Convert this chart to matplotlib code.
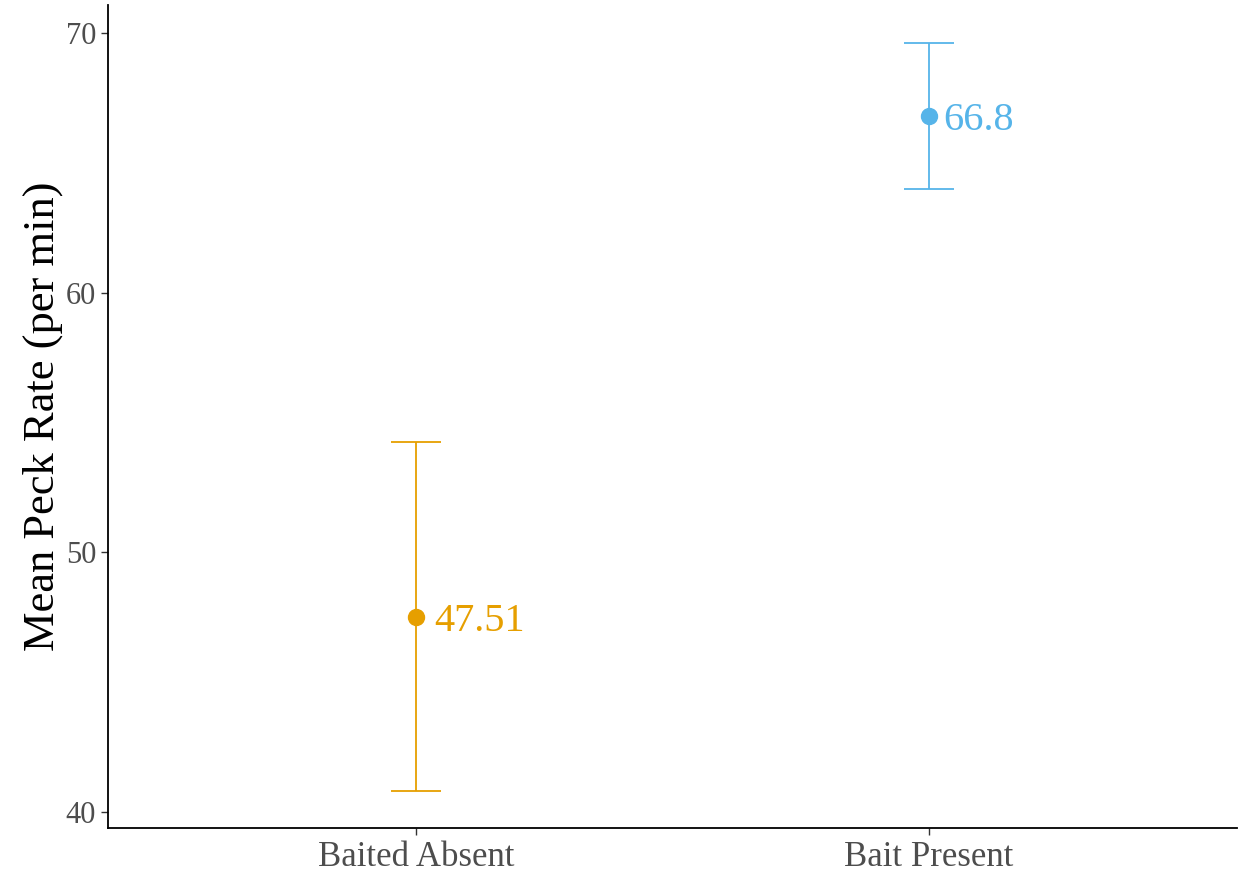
import matplotlib.pyplot as plt
import numpy as np

plt.rcParams['font.family'] = ['Liberation Serif', 'DejaVu Serif']

groups = ['Baited Absent', 'Bait Present']
means = [47.51, 66.8]
lower = [40.81, 64.0]
upper = [54.24, 69.61]
labels = ['47.51', '66.8']
colors = ['#E69F00', '#56B4E9']

W, H = 1238, 875
fig = plt.figure(figsize=(W / 100, H / 100), dpi=100)
ax = fig.add_axes([108 / W, (H - 828) / H, (1237 - 108) / W, (828 - 5) / H])

xpos = np.arange(1, len(groups) + 1)
# text offset = 0.2 * label width (ggplot hjust = -0.2)
offsets = [13, 10]
for i, x in enumerate(xpos):
    m = means[i]
    err = [[m - lower[i]], [upper[i] - m]]
    ax.errorbar([x], [m], yerr=err, fmt='o', color=colors[i], ms=11.5,
                elinewidth=1.3, capsize=18, capthick=1.3)
    ax.annotate(labels[i], (x, m), xytext=(offsets[i], 0), textcoords='offset points',
                ha='left', va='center_baseline', fontsize=29, color=colors[i])

ax.set_xlim(0.4, 2.6)
ax.set_ylim(39.384, 71.078)
ax.set_xticks(xpos)
ax.set_xticklabels(groups)
ax.set_yticks([40, 50, 60, 70])
ax.tick_params(axis='both', labelcolor='#4D4D4D', color='#333333',
               length=5, width=1)
ax.tick_params(axis='y', labelsize=22)
ax.tick_params(axis='x', labelsize=25, pad=4)
ax.set_ylabel('Mean Peck Rate (per min)', fontsize=32, labelpad=2)
for s in ['top', 'right']:
    ax.spines[s].set_visible(False)
for s in ['left', 'bottom']:
    ax.spines[s].set_linewidth(1.3)
    ax.spines[s].set_color('black')

plt.savefig('out.png', dpi=100)
